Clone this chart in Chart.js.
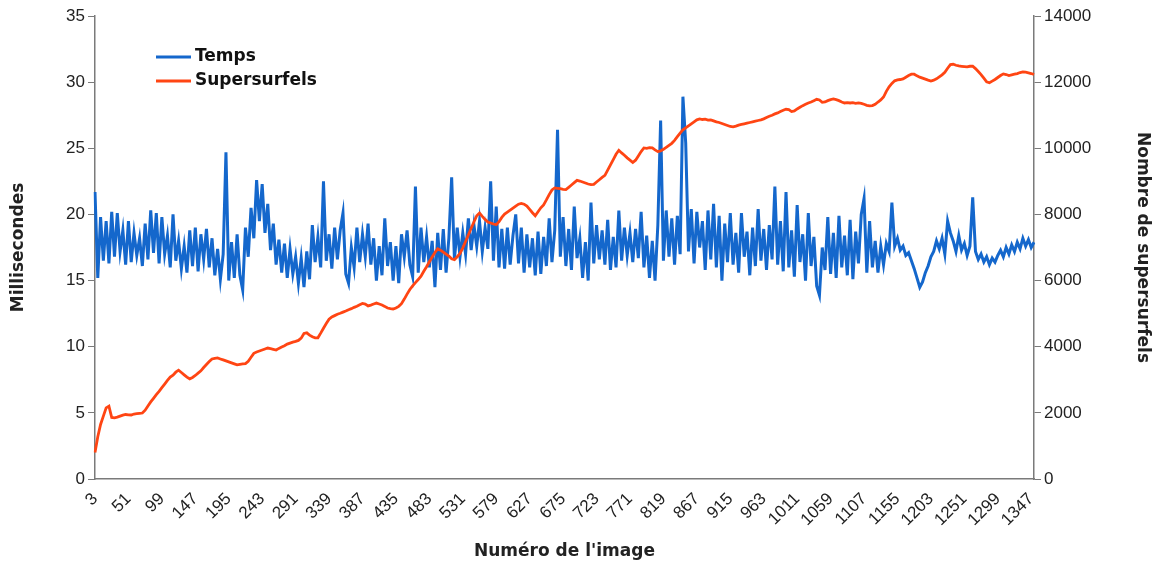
<!DOCTYPE html>
<html>
<head>
<meta charset="utf-8">
<script src="https://cdn.jsdelivr.net/npm/chart.js@4.4.1/dist/chart.umd.min.js"></script>
<style>
  html, body { margin: 0; padding: 0; background: #ffffff; }
  #wrap { width: 1159px; height: 563px; position: relative; }
</style>
</head>
<body>
<div id="wrap"><canvas id="c" width="1159" height="563"></canvas></div>
<script>
// Frame numbers sampled every 4 frames from 3 to 1351
const FIRST_FRAME = 3;
const FRAME_STEP = 4;
const frameCount = 338;
const frames = [];
for (let i = 0; i < frameCount; i++) frames.push(String(FIRST_FRAME + FRAME_STEP * i));

const tickLabels = ['3','51','99','147','195','243','291','339','387','435','483','531','579','627','675','723','771','819','867','915','963','1011','1059','1107','1155','1203','1251','1299','1347'];

const seriesNames = ['Temps', 'Supersurfels'];

// Milliseconds (left axis)
const temps = [
21.7,15.2,19.8,16.5,19.5,16.3,20.2,16.8,20.1,17.2,
18.8,16.2,19.5,16.4,18.6,16.9,18.2,16.1,19.3,16.6,
20.3,17.1,20.1,16.3,19.8,17.0,18.4,16.0,20.0,16.5,
18.0,15.9,17.6,15.6,18.8,16.1,19.0,15.7,18.5,16.6,
18.9,16.0,18.2,15.4,17.4,15.1,17.0,24.7,15.0,17.9,
15.2,18.5,15.4,14.3,19.0,16.8,20.5,18.2,22.6,19.5,
22.3,18.6,20.8,17.3,19.3,16.2,18.1,15.6,17.8,15.2,
17.4,15.5,16.8,14.8,16.7,14.5,17.2,15.1,19.2,16.4,
18.3,16.0,22.5,16.5,18.5,15.9,19.0,16.6,18.8,20.1,
15.5,14.8,17.5,16.0,19.0,16.4,18.5,16.8,19.3,16.2,
18.2,15.0,17.6,15.4,19.7,16.1,17.9,15.0,17.6,14.8,
18.5,16.8,18.8,16.2,15.3,22.1,15.6,19.0,16.4,18.3,
16.0,18.0,14.5,18.6,15.8,18.9,15.6,18.2,22.8,16.6,
19.0,16.8,18.6,17.0,19.7,17.3,19.2,17.6,19.5,17.2,
19.0,17.4,22.5,16.5,20.6,16.0,18.9,15.9,19.0,16.2,
18.4,20.0,16.3,19.0,15.6,18.5,16.0,18.2,15.4,18.7,
15.5,18.3,16.1,19.7,16.4,18.8,26.4,16.8,19.8,16.1,
18.9,15.8,20.6,16.7,18.2,15.2,17.9,15.0,20.9,16.3,
19.2,16.6,18.8,16.2,19.6,15.8,18.3,16.0,20.3,16.5,
19.0,16.9,18.6,16.4,18.9,16.7,20.2,16.0,18.4,15.2,
18.0,15.0,19.2,27.1,16.5,20.3,16.8,19.7,16.2,19.9,
17.0,28.9,25.4,17.2,20.4,16.3,20.2,17.5,19.5,15.8,
20.3,16.6,20.8,16.0,19.9,15.0,19.3,16.4,20.1,16.2,
18.6,15.6,20.1,16.8,18.7,15.4,19.0,16.1,20.4,16.5,
18.9,15.8,19.2,16.6,22.1,16.2,19.5,15.7,21.7,16.0,
18.8,15.3,20.7,16.4,18.5,15.0,20.1,16.1,18.3,14.6,
13.9,17.5,15.8,19.8,15.5,18.6,15.2,19.9,16.0,18.4,
15.4,19.6,15.1,18.7,16.3,20.0,21.2,15.6,19.5,16.0,
18.0,15.6,17.6,16.2,17.8,17.2,20.9,17.6,18.2,17.3,
17.6,16.9,17.1,16.5,15.9,15.2,14.5,14.9,15.6,16.1,
16.8,17.2,18.0,17.4,18.2,17.0,19.5,18.6,18.0,17.2,
18.4,17.3,17.8,16.9,17.6,21.3,17.2,16.6,17.0,16.4,
16.8,16.2,16.7,16.4,16.9,17.3,16.8,17.5,17.0,17.7,
17.2,17.9,17.4,18.2,17.6,18.1,17.5,17.9
];

// Number of supersurfels (right axis)
const supersurfels = [
800,1280,1650,1900,2150,2200,1860,1850,1870,1900,
1930,1950,1940,1935,1965,1975,1985,1995,2080,2210,
2330,2440,2550,2650,2760,2870,2980,3080,3140,3230,
3290,3220,3150,3080,3030,3070,3130,3200,3270,3370,
3460,3550,3630,3650,3660,3630,3600,3570,3540,3510,
3480,3450,3465,3480,3490,3560,3680,3800,3840,3870,
3900,3930,3960,3940,3920,3900,3950,3990,4030,4080,
4110,4140,4160,4190,4260,4400,4420,4350,4300,4270,
4270,4410,4560,4700,4830,4900,4940,4980,5010,5045,
5080,5120,5150,5190,5225,5270,5310,5290,5235,5260,
5290,5320,5290,5260,5220,5170,5150,5140,5170,5220,
5300,5440,5590,5730,5840,5940,6030,6130,6280,6420,
6570,6710,6850,6960,6920,6860,6800,6740,6660,6630,
6720,6820,6990,7180,7380,7580,7770,7960,8040,7940,
7850,7770,7740,7710,7690,7780,7910,8010,8070,8130,
8190,8250,8310,8335,8310,8250,8150,8050,7960,8080,
8200,8290,8440,8600,8740,8800,8790,8780,8760,8750,
8820,8890,8960,9030,9010,8980,8950,8920,8900,8910,
8980,9050,9120,9180,9340,9500,9660,9820,9940,9860,
9790,9710,9640,9570,9640,9770,9900,10010,10000,10020,
10010,9950,9900,9920,9970,10030,10090,10150,10240,10350,
10460,10560,10620,10680,10740,10800,10860,10890,10870,10880,
10850,10860,10830,10800,10780,10750,10720,10690,10660,10650,
10670,10700,10720,10740,10760,10780,10800,10820,10840,10860,
10890,10930,10970,11000,11040,11070,11110,11150,11180,11170,
11110,11130,11190,11240,11290,11330,11370,11400,11440,11480,
11460,11390,11400,11440,11470,11490,11470,11440,11400,11370,
11380,11370,11380,11360,11370,11360,11330,11300,11280,11290,
11330,11400,11460,11550,11720,11860,11960,12040,12070,12080,
12100,12150,12200,12240,12240,12190,12150,12120,12090,12060,
12035,12060,12100,12160,12220,12300,12420,12530,12540,12510,
12490,12480,12470,12460,12480,12480,12410,12320,12230,12120,
12010,11980,12030,12080,12140,12200,12250,12230,12200,12220,
12240,12260,12290,12310,12300,12280,12260,12230
];

const BLUE = '#1467cc';
const RED = '#ff4513';
const AXIS = '#7a7a7a';
const TXT = '#222222';

const legendPlugin = {
  id: 'insideLegend',
  afterDatasetsDraw(chart) {
    const ctx = chart.ctx;
    const items = [
      { name: seriesNames[0], color: BLUE, y: 57 },
      { name: seriesNames[1], color: RED, y: 81 }
    ];
    ctx.save();
    items.forEach(it => {
      ctx.strokeStyle = it.color;
      ctx.lineWidth = 3;
      ctx.beginPath();
      ctx.moveTo(156, it.y);
      ctx.lineTo(191, it.y);
      ctx.stroke();
      ctx.fillStyle = '#111';
      ctx.font = 'bold 17px "DejaVu Sans"';
      ctx.textBaseline = 'middle';
      ctx.textAlign = 'left';
      ctx.fillText(it.name, 195, it.y);
    });
    ctx.restore();
  }
};

new Chart(document.getElementById('c'), {
  type: 'line',
  data: {
    labels: frames,
    datasets: [
      {
        label: seriesNames[0],
        data: temps,
        yAxisID: 'y',
        borderColor: BLUE,
        backgroundColor: BLUE,
        borderWidth: 3,
        pointRadius: 0,
        tension: 0,
        order: 2
      },
      {
        label: seriesNames[1],
        data: supersurfels,
        yAxisID: 'y1',
        borderColor: RED,
        backgroundColor: RED,
        borderWidth: 2.8,
        pointRadius: 0,
        tension: 0,
        order: 1
      }
    ]
  },
  options: {
    responsive: false,
    animation: false,
    devicePixelRatio: 1,
    layout: { padding: { top: 16, left: 0, right: 0, bottom: 0 } },
    plugins: {
      legend: { display: false },
      tooltip: { enabled: false }
    },
    scales: {
      x: {
        type: 'category',
        offset: false,
        grid: { display: false },
        border: { display: true, color: AXIS, width: 1.5 },
        ticks: {
          autoSkip: false,
          minRotation: 45,
          maxRotation: 45,
          color: TXT,
          padding: 2,
          font: { family: '"Liberation Sans"', size: 17 },
          callback: function(v) {
            const l = this.getLabelForValue(v);
            return tickLabels.includes(l) ? l : null;
          }
        },
        title: {
          display: true,
          text: "Numéro de l'image",
          color: TXT,
          font: { family: '"DejaVu Sans"', size: 17, weight: 'bold' },
          padding: { top: 4, bottom: 1 }
        },
        afterFit: s => { s.height = 84; }
      },
      y: {
        position: 'left',
        min: 0, max: 35,
        grid: { display: true, drawOnChartArea: false, color: AXIS, tickLength: 7 },
        border: { display: true, color: AXIS, width: 1.5 },
        ticks: {
          stepSize: 5,
          color: TXT,
          padding: 3,
          font: { family: '"Liberation Sans"', size: 17 }
        },
        title: {
          display: true,
          text: 'Millisecondes',
          color: TXT,
          font: { family: '"DejaVu Sans"', size: 17, weight: 'bold' },
          padding: { top: 8, bottom: 4 }
        },
        afterFit: s => { s.width = 95; }
      },
      y1: {
        position: 'right',
        min: 0, max: 14000,
        grid: { display: true, drawOnChartArea: false, color: AXIS, tickLength: 7 },
        border: { display: true, color: AXIS, width: 1.5 },
        ticks: {
          stepSize: 2000,
          color: TXT,
          padding: 3,
          font: { family: '"Liberation Sans"', size: 17 },
          callback: v => String(v)
        },
        title: {
          display: true,
          text: 'Nombre de supersurfels',
          color: TXT,
          font: { family: '"DejaVu Sans"', size: 17, weight: 'bold' },
          padding: { top: 6, bottom: 4 }
        },
        afterFit: s => { s.width = 125; }
      }
    }
  },
  plugins: [legendPlugin]
});
</script>
</body>
</html>
